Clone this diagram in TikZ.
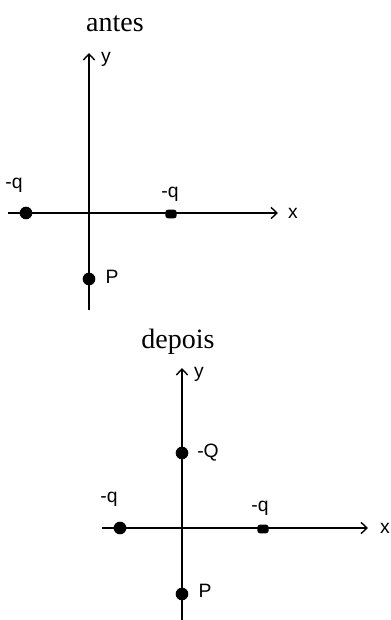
\documentclass[tikz,border=0pt]{standalone}
\usepackage{fontspec}
\setmainfont{Liberation Serif}
\newfontfamily\labfont{Liberation Sans}
\usetikzlibrary{arrows.meta}
\begin{document}
\begin{tikzpicture}[x=0.75pt,y=-0.75pt,
  axis/.style={line width=1.05pt,-{Straight Barb[length=4.5pt,width=8.5pt,line width=1.05pt]}},
  chargedot/.style={circle,fill=black,inner sep=0pt,minimum size=9.5pt},
  chargeflat/.style={rectangle,rounded corners=2pt,fill=black,inner sep=0pt,minimum width=8.5pt,minimum height=6.5pt},
  lab/.style={font=\labfont\fontsize{14.5}{14.5}\selectfont,inner sep=0pt},
  ttl/.style={font=\fontsize{21}{21}\selectfont,inner sep=0pt,anchor=base}]
\useasboundingbox (0,0) rectangle (391,620);
% ---- antes ----
\node[ttl] (t1) at (115,32) {antes};
\coordinate (y1top) at (89,53);
\coordinate (y1bot) at (89,310);
\coordinate (x1l) at (8,213);
\coordinate (x1r) at (278,213);
\draw[axis] (y1bot) -- (y1top);
\draw[axis] (x1l) -- (x1r);
\node[lab] (y1lab) at (106,59) {y};
\node[lab] (x1lab) at (293,213) {x};
\node[chargedot] (q1a) at (26,213) {};
\node[lab] (q1alab) at (14,185) {-q};
\node[chargeflat] (q1b) at (171,214) {};
\node[lab] (q1blab) at (170,194) {-q};
\node[chargedot] (p1) at (89,279) {};
\node[lab] (p1lab) at (112,277) {P};
% ---- depois ----
\node[ttl] (t2) at (178,348) {depois};
\coordinate (y2top) at (182,368);
\coordinate (y2bot) at (182,620);
\coordinate (x2l) at (102,528);
\coordinate (x2r) at (368,528);
\draw[axis] (y2bot) -- (y2top);
\draw[axis] (x2l) -- (x2r);
\node[lab] (y2lab) at (199,374) {y};
\node[lab] (x2lab) at (385,528) {x};
\node[chargedot] (Q2) at (182,453) {};
\node[lab] (Q2lab) at (208,453) {-Q};
\node[chargedot] (q2a) at (120,528) {};
\node[lab] (q2alab) at (109,499) {-q};
\node[chargeflat] (q2b) at (263,529) {};
\node[lab] (q2blab) at (260,508) {-q};
\node[chargedot] (p2) at (182,594) {};
\node[lab] (p2lab) at (205,591) {P};
\end{tikzpicture}
\end{document}
